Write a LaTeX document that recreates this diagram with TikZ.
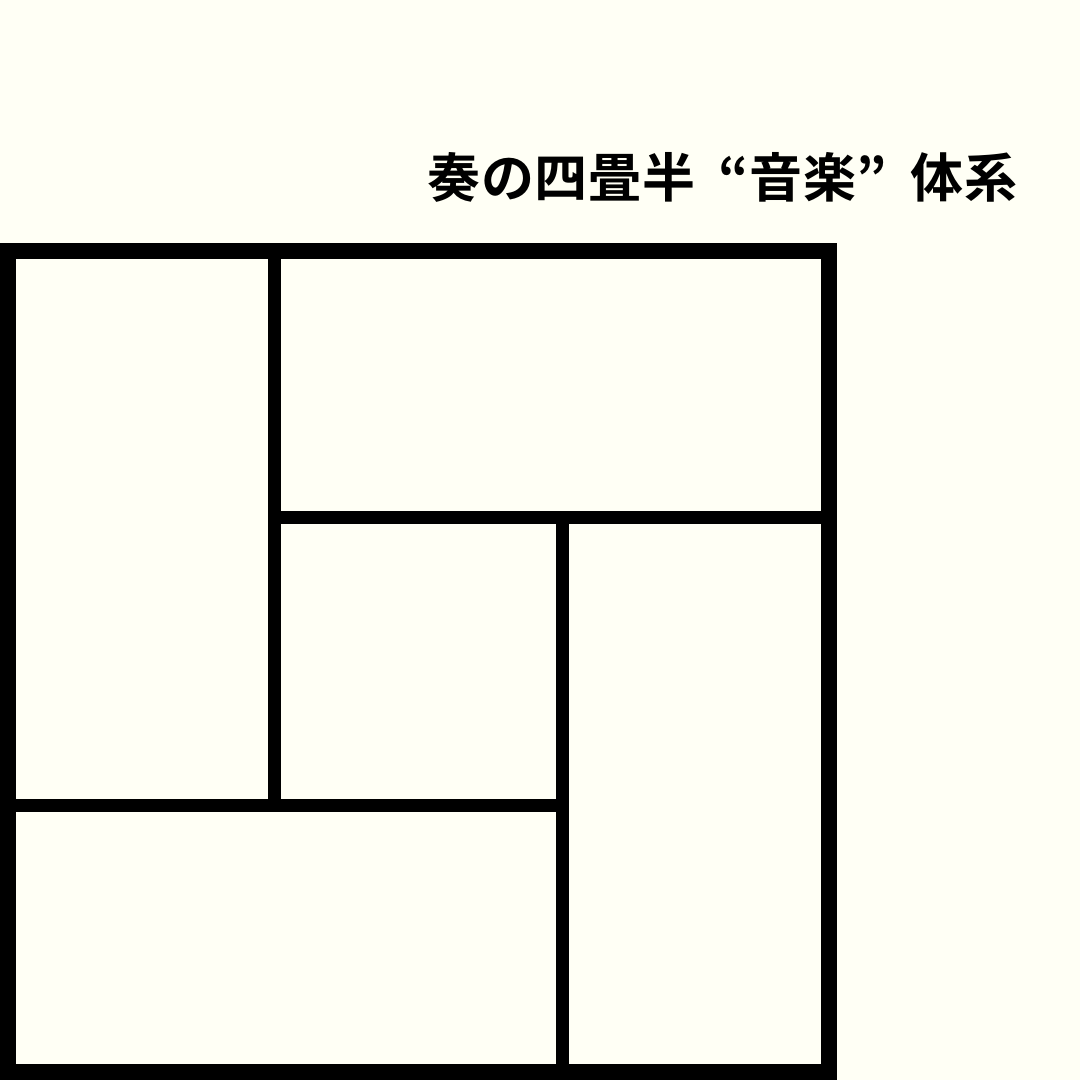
\documentclass[tikz,border=0pt]{standalone}
\usepackage{fontspec}
\newfontfamily\jpfont{Noto Sans CJK JP}[BoldFont={Noto Sans CJK JP Bold}]
\definecolor{paper}{RGB}{255,255,245}
\newcommand\jcell[1]{\makebox[53.7pt][c]{#1}}
\newcommand\jopen[1]{\makebox[53.7pt][r]{#1}}
\newcommand\jclose[1]{\makebox[53.7pt][l]{#1}}
\tikzset{
  outerwall/.style={draw=black, line width=16pt},
  innerwall/.style={draw=black, line width=13pt},
  titletext/.style={font=\jpfont\bfseries\fontsize{53}{60}\selectfont, inner sep=0pt, anchor=base west}
}
\begin{document}
\begin{tikzpicture}[x=1pt,y=-1pt]
\fill[paper] (0,0) rectangle (1080,1080);
\useasboundingbox (0,0) rectangle (1080,1080);
% title
\node[titletext] (title) at (427,197) {\jcell{奏}\jcell{の}\jcell{四}\jcell{畳}\jcell{半}\jopen{“}\jcell{音}\jcell{楽}\jclose{”}\jcell{体}\jcell{系}};
% named corners
\coordinate (tl) at (8,251);
\coordinate (br) at (829,1072);
\coordinate (v1top) at (274.5,251);
\coordinate (v1bot) at (274.5,805.5);
\coordinate (h1left) at (274.5,517);
\coordinate (h1right) at (829,517);
\coordinate (v2top) at (562.5,517);
\coordinate (v2bot) at (562.5,1072);
\coordinate (h2left) at (8,805.5);
\coordinate (h2right) at (562.5,805.5);
% inner walls
\draw[innerwall] (v1top) -- (v1bot);
\draw[innerwall] (h1left) -- (h1right);
\draw[innerwall] (v2top) -- (v2bot);
\draw[innerwall] (h2left) -- (h2right);
% outer frame
\draw[outerwall] (tl) rectangle (br);
\end{tikzpicture}
\end{document}
